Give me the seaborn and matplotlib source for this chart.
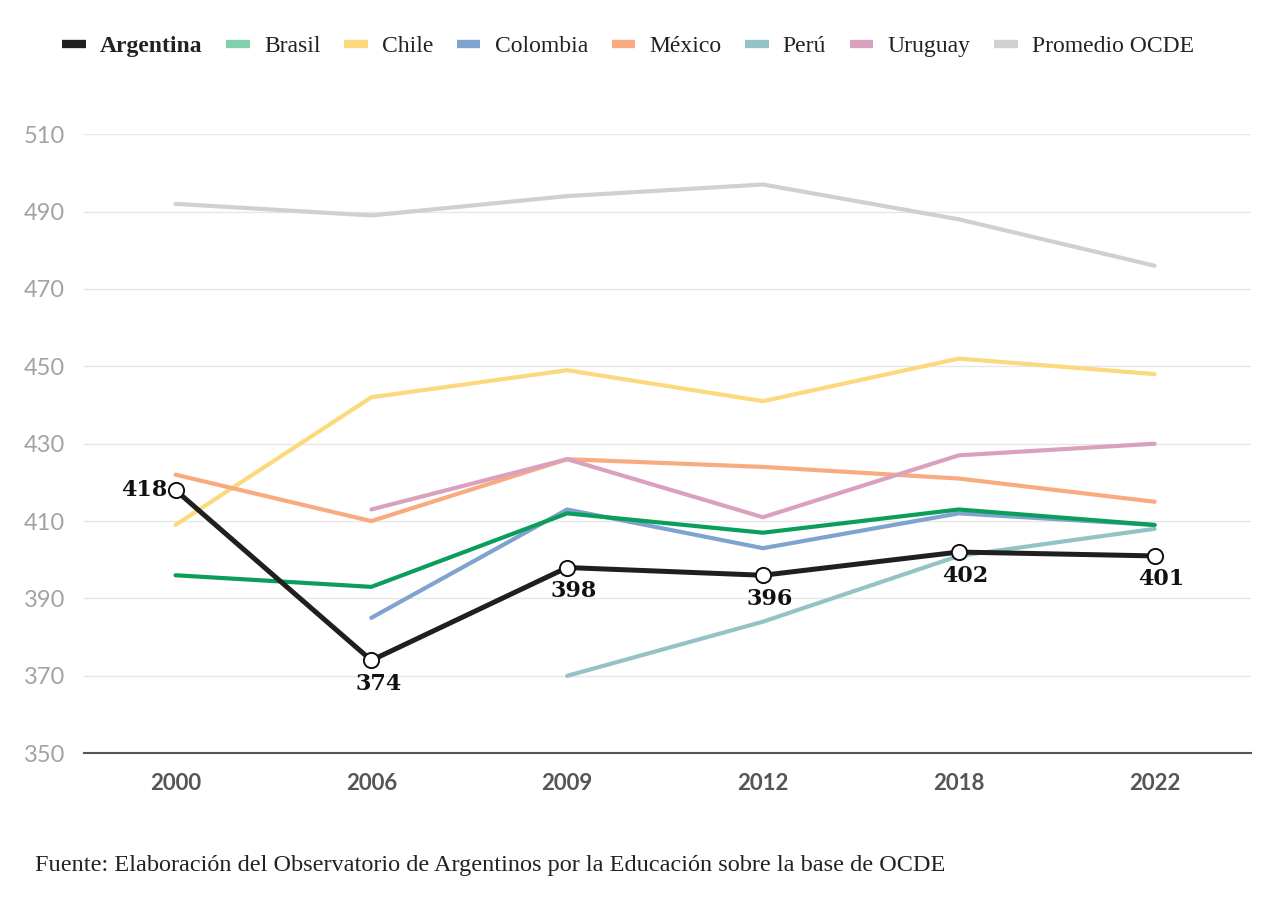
import matplotlib
matplotlib.use("Agg")
import matplotlib.pyplot as plt
from matplotlib.lines import Line2D
import seaborn as sns
import pandas as pd

# ---- Data (PISA lectura) ----
years = ["2000", "2006", "2009", "2012", "2018", "2022"]
argentina = [418, 374, 398, 396, 402, 401]
brasil = [396, 393, 412, 407, 413, 409]
chile = [409, 442, 449, 441, 452, 448]
colombia = [None, 385, 413, 403, 412, 409]
mexico = [422, 410, 426, 424, 421, 415]
peru = [None, None, 370, 384, 401, 408]
uruguay = [None, 413, 426, 411, 427, 430]
ocde = [492, 489, 494, 497, 488, 476]

series = {
    "Argentina": argentina, "Brasil": brasil, "Chile": chile, "Colombia": colombia,
    "México": mexico, "Perú": peru, "Uruguay": uruguay, "Promedio OCDE": ocde,
}
line_colors = {
    "Argentina": "#1f1f1f", "Brasil": "#0b9e5b", "Chile": "#fbd97c", "Colombia": "#7fa3cf",
    "México": "#f8ab80", "Perú": "#93c3c6", "Uruguay": "#d9a1be", "Promedio OCDE": "#d0d0d0",
}
legend_colors = dict(line_colors, Brasil="#7fd0ad")

rows = []
for name, vals in series.items():
    for i, v in enumerate(vals):
        if v is not None:
            rows.append({"pais": name, "x": i, "valor": v})
df = pd.DataFrame(rows)

# ---- Plot ----
sns.set_style("white")
plt.rcParams["font.family"] = ["Lato", "DejaVu Sans"]

fig = plt.figure(figsize=(12.8, 9.13), dpi=100)
ax = fig.add_axes([0.066, 0.175, 0.911, 0.678])

draw_order = ["Promedio OCDE", "Chile", "México", "Uruguay", "Colombia", "Perú", "Brasil", "Argentina"]
for name in draw_order:
    sub = df[df["pais"] == name]
    sns.lineplot(data=sub, x="x", y="valor", color=line_colors[name],
                 linewidth=3.6 if name == "Argentina" else 3.0,
                 ax=ax, zorder=5 if name == "Argentina" else 3)

arg = df[df["pais"] == "Argentina"]
ax.scatter(arg["x"], arg["valor"], s=120, facecolor="white", edgecolor="#111111",
           linewidth=1.4, zorder=6)
for x, v in zip(arg["x"], arg["valor"]):
    if x == 0:
        ax.annotate(str(v), (x, v), xytext=(-6, 0), textcoords="offset points",
                    ha="right", va="center", fontsize=16, fontweight="bold",
                    family="DejaVu Serif", color="#111111")
    else:
        ax.annotate(str(v), (x, v), xytext=(5, -9), textcoords="offset points",
                    ha="center", va="top", fontsize=16, fontweight="bold",
                    family="DejaVu Serif", color="#111111")

ax.set_ylim(350, 510)
ax.set_xlim(-0.465, 5.49)
ax.set_yticks(range(350, 511, 20))
ax.set_xticks(range(len(years)))
ax.set_xticklabels(years)
ax.set_xlabel("")
ax.set_ylabel("")
ax.grid(axis="y", color="#e6e6e6", linewidth=1)
ax.set_axisbelow(True)
for s in ["top", "right", "left"]:
    ax.spines[s].set_visible(False)
ax.spines["bottom"].set_color("#555555")
ax.spines["bottom"].set_linewidth(1.5)
ax.tick_params(axis="y", length=0, pad=14, labelsize=17, labelcolor="#a3a3a3")
ax.tick_params(axis="x", length=0, pad=14, labelsize=16, labelcolor="#555555")
for t in ax.get_xticklabels():
    t.set_fontweight("bold")

# ---- Legend ----
handles = [Line2D([0], [0], color=legend_colors[n], linewidth=6, solid_capstyle="butt")
           for n in series]
leg = fig.legend(handles, list(series.keys()), loc="center left",
                 bbox_to_anchor=(0.032, 0.949), ncol=8, frameon=False,
                 handlelength=1.0, handletextpad=0.6, columnspacing=1.0,
                 prop={"family": "Liberation Serif", "size": 17})
for t in leg.get_texts():
    t.set_color("#222222")
    if t.get_text() == "Argentina":
        t.set_fontweight("bold")

fig.text(0.027, 0.052, "Fuente: Elaboración del Observatorio de Argentinos por la Educación sobre la base de OCDE",
         family="Liberation Serif", fontsize=17.5, color="#222222", va="center")

plt.savefig("out.png", dpi=100)
